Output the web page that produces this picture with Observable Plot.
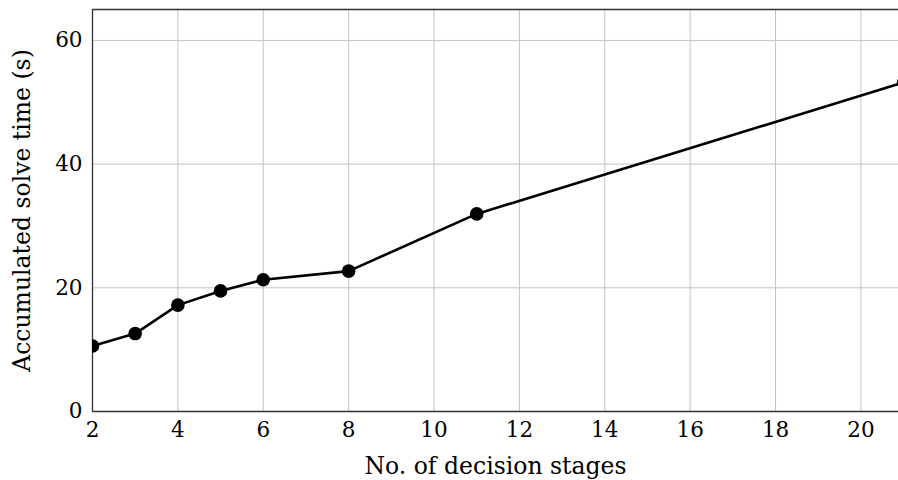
<!DOCTYPE html>
<html>
<head>
<meta charset="utf-8">
<script src="https://cdn.jsdelivr.net/npm/d3@7"></script>
<script src="https://cdn.jsdelivr.net/npm/@observablehq/plot@0.6"></script>
<style>
  html, body { margin: 0; padding: 0; background: white; }
</style>
</head>
<body>
<div id="chart"></div>
<script>
// Data
const stages = [2, 3, 4, 5, 6, 8, 11, 21];
const solveTimes = [10.6, 12.6, 17.2, 19.5, 21.3, 22.7, 31.95, 53.2];
const xTicks = [2, 4, 6, 8, 10, 12, 14, 16, 18, 20];
const yTicks = [0, 20, 40, 60];
const xDomain = [2, 20.88];
const yDomain = [0, 65];
const xLabel = "No. of decision stages";
const yLabel = "Accumulated solve time (s)";

const data = stages.map((s, i) => ({stage: s, time: solveTimes[i]}));

const chart = Plot.plot({
  width: 898,
  height: 480,
  marginLeft: 92,
  marginRight: 0,
  marginTop: 9,
  marginBottom: 69,
  style: {
    fontFamily: "'DejaVu Serif', serif",
    fontSize: "21.5px",
    background: "white",
    color: "black",
    overflow: "visible"
  },
  x: {domain: xDomain},
  y: {domain: yDomain},
  marks: [
    Plot.gridX(xTicks, {stroke: "#c4c4c4", strokeOpacity: 1, strokeWidth: 1}),
    Plot.gridY(yTicks, {stroke: "#c4c4c4", strokeOpacity: 1, strokeWidth: 1}),
    Plot.ruleX([xDomain[0]], {stroke: "#333", strokeWidth: 1.3}),
    Plot.ruleY([yDomain[0], yDomain[1]], {stroke: "#333", strokeWidth: 1.3}),
    Plot.line(data, {x: "stage", y: "time", stroke: "black", strokeWidth: 2.6, clip: true}),
    Plot.dot(data, {x: "stage", y: "time", r: 6.8, fill: "black", stroke: "none", clip: true}),
    Plot.axisX(xTicks, {
      tickSize: 0, tickPadding: 10, fontSize: 21.5, label: null
    }),
    Plot.axisX([], {
      tickSize: 0, fontSize: 23.5,
      label: xLabel, labelAnchor: "center", labelArrow: "none", labelOffset: 62
    }),
    Plot.axisY(yTicks, {
      tickSize: 0, tickPadding: 10, fontSize: 21.5, label: null
    }),
    Plot.axisY([], {
      tickSize: 0, fontSize: 23.5,
      label: yLabel, labelAnchor: "center", labelArrow: "none", labelOffset: 79
    })
  ]
});

document.getElementById("chart").appendChild(chart);
</script>
</body>
</html>
